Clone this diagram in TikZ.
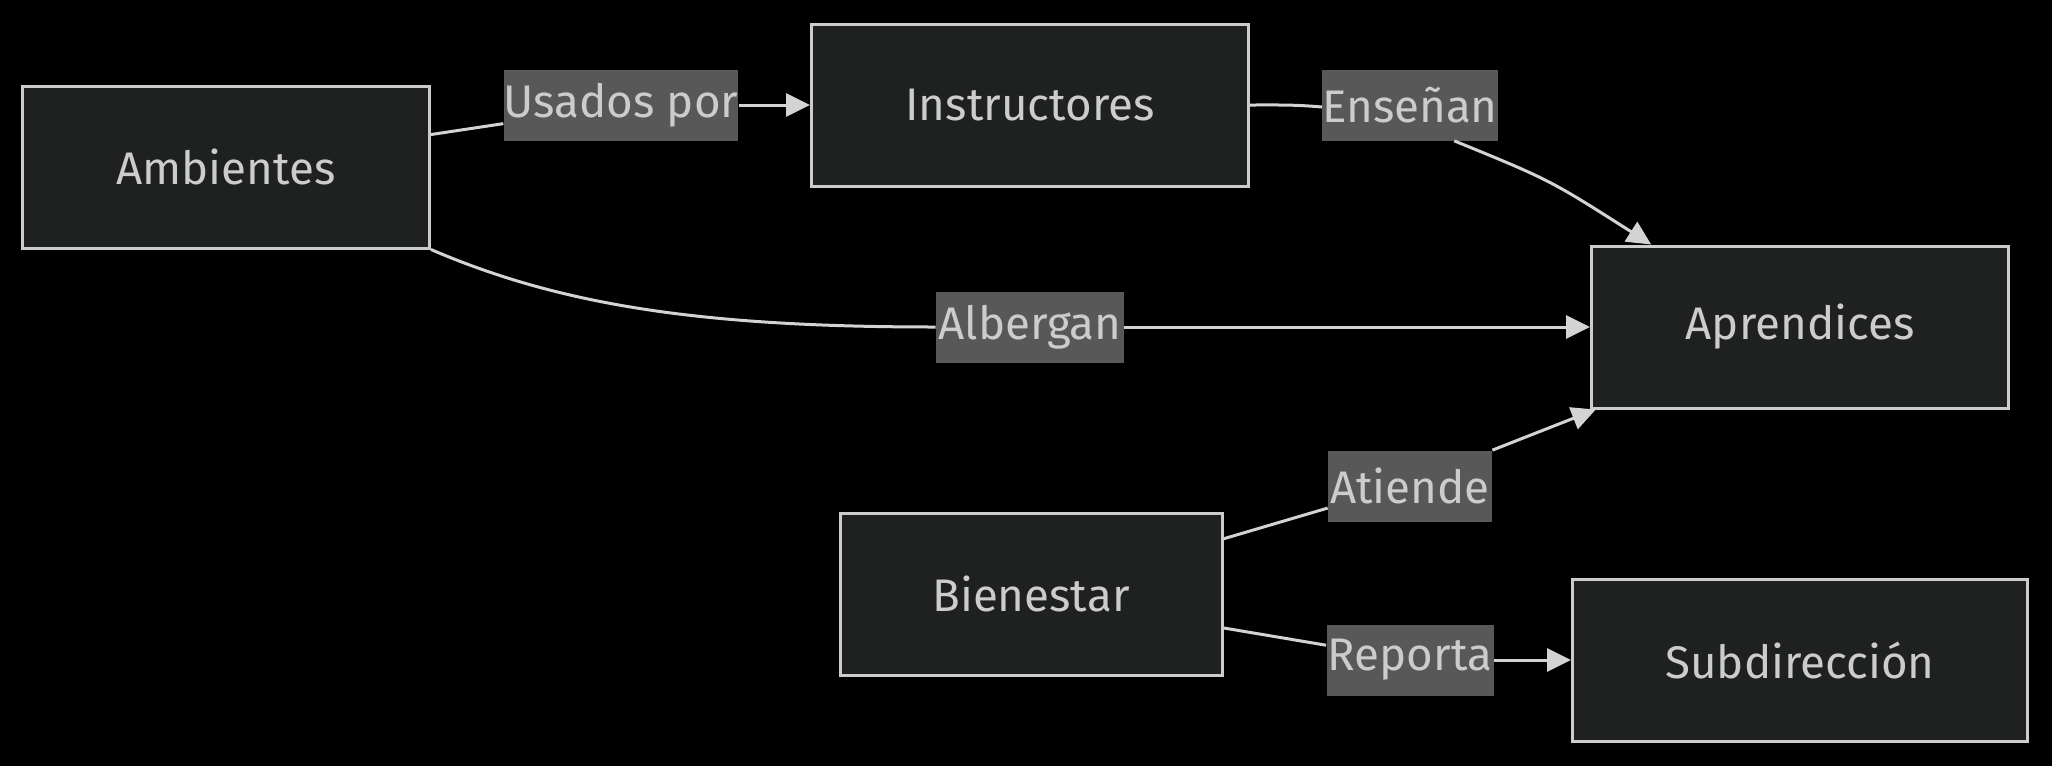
\documentclass[tikz,border=0pt]{standalone}
\usepackage{fontspec}
\setmainfont{Fira Sans}
\usepackage{tikz}
\usetikzlibrary{arrows.meta}
\definecolor{nodefill}{HTML}{1F2020}
\definecolor{nodeline}{HTML}{CCCCCC}
\definecolor{labelfill}{HTML}{585858}
\definecolor{textgray}{HTML}{CCCCCC}
\definecolor{edgegray}{HTML}{D3D3D3}
\newcommand\pxlen{0.02cm}
\newcommand\diagfont{\fontsize{26}{31}\selectfont}
\tikzstyle{darkbox}=[rectangle,draw=nodeline,fill=nodefill,line width=3*\pxlen,
                     text=textgray,font=\diagfont,inner sep=0pt,
                     minimum height=162*\pxlen]
\tikzstyle{edgelabel}=[rectangle,fill=labelfill,text=textgray,font=\diagfont,
                       inner sep=0pt,minimum height=71*\pxlen]
\tikzstyle{link}=[draw=edgegray,line width=3*\pxlen]
\tikzstyle{linkarrow}=[link,-{Triangle[length=24*\pxlen,width=23*\pxlen]}]

\begin{document}
\begin{tikzpicture}[x=\pxlen,y=-\pxlen]
    \useasboundingbox (0,0) rectangle (2052,765);
    \fill [black] (-10,-10) rectangle (2062,775);

    % cajas
    \node [darkbox,minimum width=407*\pxlen] (Ambientes) at (226,167) {Ambientes};
    \node [darkbox,minimum width=437*\pxlen] (Instructores) at (1030,105) {Instructores};
    \node [darkbox,minimum width=417*\pxlen] (Aprendices) at (1800,327) {Aprendices};
    \node [darkbox,minimum width=382*\pxlen] (Bienestar) at (1031,594) {Bienestar};
    \node [darkbox,minimum width=455*\pxlen] (Subdireccion) at (1800,660) {Subdirección};

    % etiquetas
    \node [edgelabel,minimum width=234*\pxlen] (UsadosPor) at (621,105) {Usados por};
    \node [edgelabel,minimum width=173*\pxlen] (Ensenan) at (1410,105) {Enseñan};
    \node [edgelabel,minimum width=188*\pxlen] (Albergan) at (1030,327) {Albergan};
    \node [edgelabel,minimum width=164*\pxlen] (Atiende) at (1410,486) {Atiende};
    \node [edgelabel,minimum width=167*\pxlen] (Reporta) at (1410,660) {Reporta};

    % conexiones
    \draw [link] (Ambientes.9) -- (UsadosPor.189);
    \draw [linkarrow] (UsadosPor.east) -- (Instructores.west);
    \draw [link] (Instructores.east) to[out=0,in=175] ([yshift=-2*\pxlen]Ensenan.west);
    \draw [linkarrow] (Ensenan.-39) .. controls (1550,180) .. (Aprendices.151);
    \draw [link] (Ambientes.south east) .. controls (560,305) and (700,327) .. (Albergan.west);
    \draw [linkarrow] (Albergan.east) -- (Aprendices.west);
    \draw [link] (Bienestar.16) -- (Atiende.195);
    \draw [linkarrow] (Atiende.north east) -- (Aprendices.202);
    \draw [link] (Bienestar.-10) -- (Reporta.170);
    \draw [linkarrow] (Reporta.east) -- (Subdireccion.west);
\end{tikzpicture}
\end{document}
